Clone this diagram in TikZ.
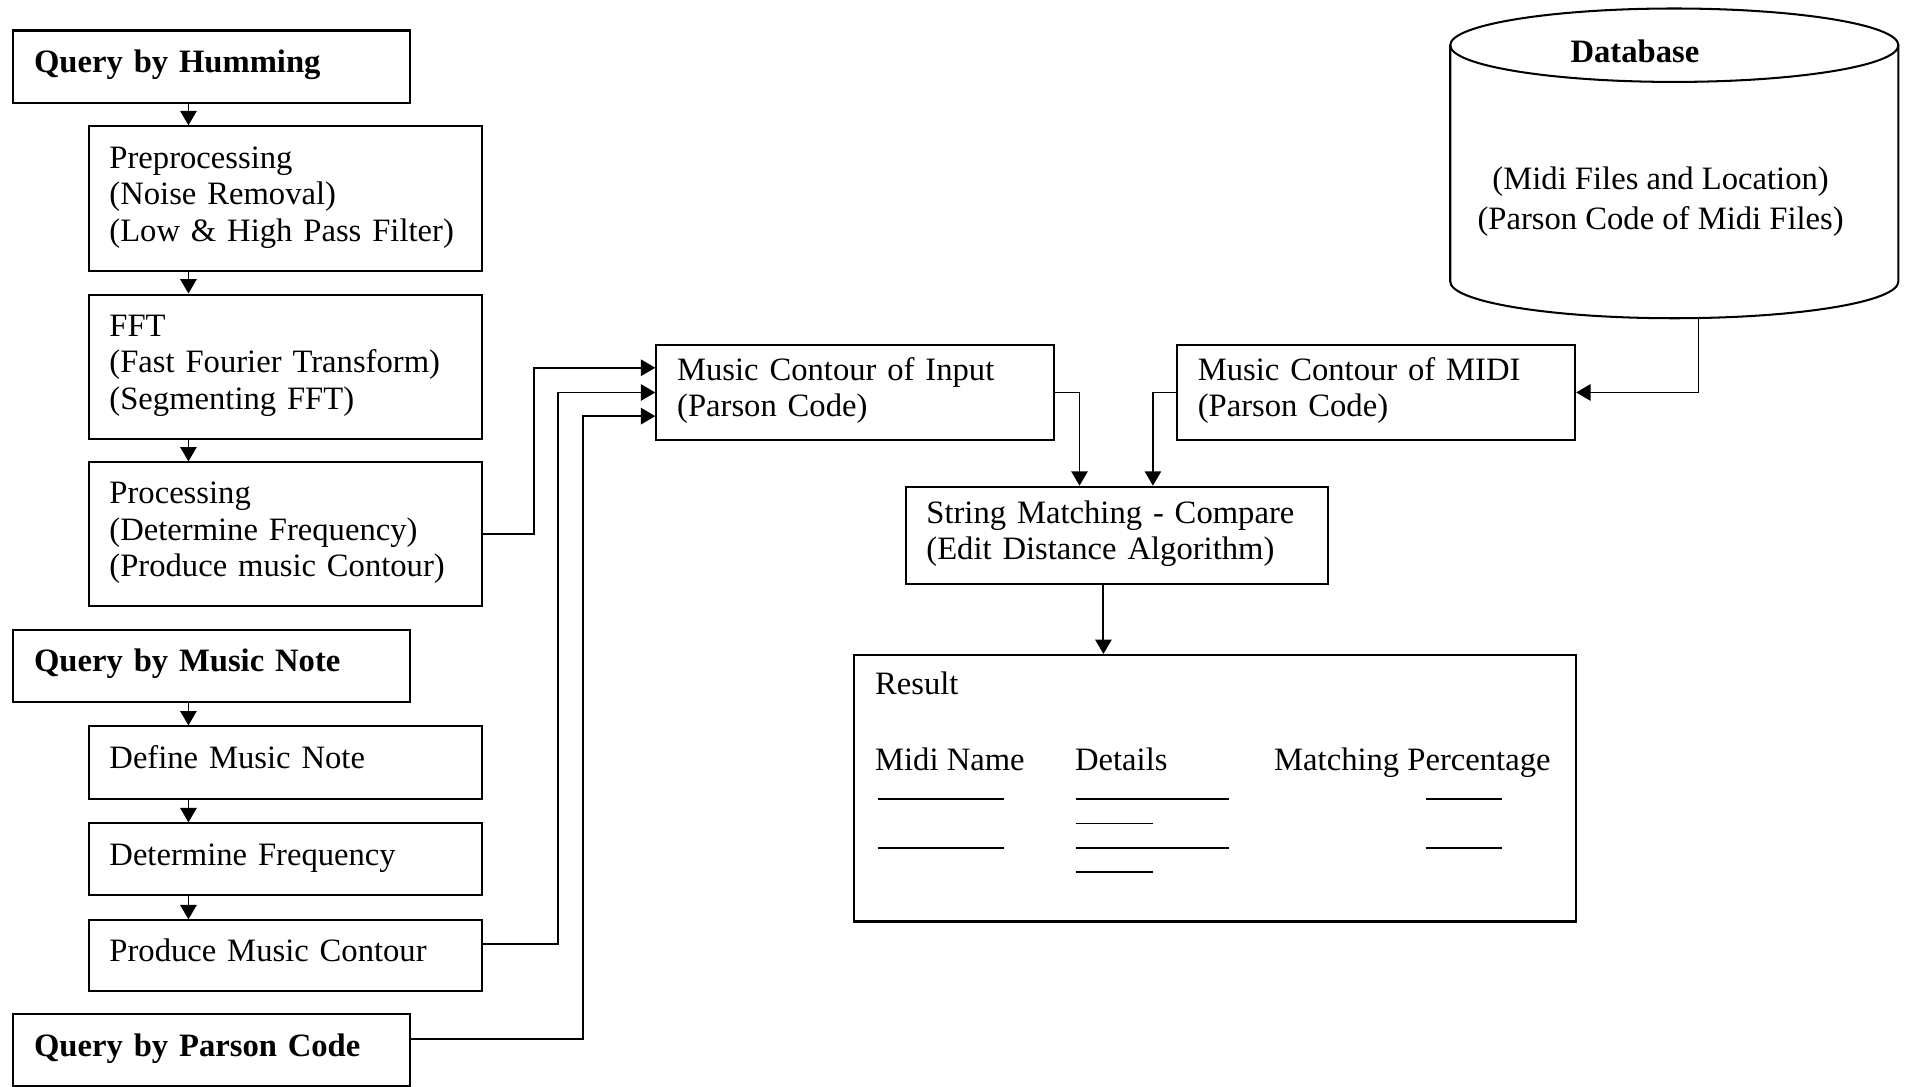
\documentclass[tikz,border=0pt]{standalone}
\usepackage{fontspec}
\setmainfont{Liberation Serif}
\usepackage{tikz}
\usetikzlibrary{arrows.meta}
\usetikzlibrary{positioning}
\tikzset{
  % filled triangle tips as in the scan
  >={Triangle[length=5.3pt,width=6pt]},
  line/.style={draw, ->, line width=0.7pt}
}
\newcommand{\bxstrut}{\rule[-4pt]{0pt}{12.4pt}}

\begin{document}
\begin{tikzpicture}[x=0.45pt, y=-0.45pt, font=\fontsize{12}{13.4}\selectfont]
    % Define styles
    \tikzstyle{block} = [rectangle, draw, line width=0.75pt, anchor=north west, align=left, inner xsep=7.65pt, inner ysep=0pt, text width=129.3pt, execute at begin node=\bxstrut, execute at end node=\bxstrut]
    \tikzstyle{query} = [block, font=\fontsize{12}{13.4}\selectfont\bfseries, text width=130.6pt, minimum height=26.5pt]
    \tikzstyle{contour} = [block, text width=131.1pt, minimum height=35pt]
    \tikzstyle{dbnode} = [rectangle, minimum width=164.8pt, minimum height=113.9pt, inner sep=0pt, outer sep=0pt]
    \tikzstyle{coltext} = [anchor=base west, inner sep=0pt]

    \useasboundingbox (0,0) rectangle (1560,887.5);
    \coordinate (ax) at (154,0);

    % Query by humming column
    \node [query] (qhum) at (10,24.1) {Query by Humming};
    \node [block, minimum height=53.2pt] (pre) at (71.6,102.4) {Preprocessing\\(Noise Removal)\\(Low \& High Pass Filter)};
    \node [block, minimum height=53.1pt, below=7.9pt of pre] (fft) {FFT\\(Fast Fourier Transform)\\(Segmenting FFT)};
    \node [block, minimum height=52.8pt, below=7.9pt of fft] (proc) {Processing\\(Determine Frequency)\\(Produce music Contour)};

    % Query by music note column
    \node [query] (qmn) at (10,513.6) {Query by Music Note};
    \node [block, minimum height=26.7pt] (def) at (71.6,592.8) {Define Music Note};
    \node [block, minimum height=26.4pt, below=8.2pt of def] (det) {Determine Frequency};
    \node [block, minimum height=26pt, below=8.5pt of det] (prod) {Produce Music Contour};

    \node [query, minimum height=26.4pt] (qpc) at (10,828) {Query by Parson Code};

    % Matching part
    \node [contour] (in) at (535.5,281) {Music Contour of Input\\(Parson Code)};
    \node [contour] (midi) at (961,281) {Music Contour of MIDI\\(Parson Code)};
    \node [block, text width=140pt, minimum height=35.7pt] (sm) at (739.2,396.9) {String Matching - Compare\\(Edit Distance Algorithm)};

    % Database drum
    \node [dbnode] (db) at (1368.2,133.5) {};
    \draw [line width=0.75pt] ([yshift=-13.5pt]db.north) ellipse [x radius=82.4pt, y radius=13.5pt];
    \draw [line width=0.75pt] ([yshift=-13.5pt]db.north west) -- ([yshift=13.5pt]db.south west)
        arc [start angle=180, end angle=360, x radius=82.4pt, y radius=13.5pt] -- ([yshift=-13.5pt]db.north east);
    \node [font=\fontsize{12}{13.4}\selectfont\bfseries] (dbname) at (1336,42.2) {Database};
    \node [align=center] (dbinfo) at (1357,165) {(Midi Files and Location)\\[1.2pt](Parson Code of Midi Files)};

    % Result table
    \node [draw, line width=0.75pt, anchor=north west, minimum width=265.4pt, minimum height=98pt, inner sep=0pt] (res) at (697.2,534.4) {};
    \node [coltext] (restitle) at (714.7,567.2) {Result};
    \node [coltext] (colname) at (714.7,629.5) {Midi Name};
    \node [coltext] (coldet) at (878.1,629.5) {Details};
    \node [coltext] (colmatch) at (1040.8,629.5) {Matching Percentage};
    \foreach \y in {653.1,692.7} {
        \draw [line width=0.7pt] (717.2,\y) -- (820.5,\y);
        \draw [line width=0.7pt] (879.6,\y) -- (1004.2,\y);
        \draw [line width=0.7pt] (879.6,\y+19.8) -- (942.2,\y+19.8);
        \draw [line width=0.7pt] (1164.9,\y) -- (1227,\y);
    }

    % Draw edges
    \path [line] (qhum.south -| ax) -- (pre.north -| ax);
    \path [line] (pre.south -| ax) -- (fft.north -| ax);
    \path [line] (fft.south -| ax) -- (proc.north -| ax);
    \path [line] (qmn.south -| ax) -- (def.north -| ax);
    \path [line] (def.south -| ax) -- (det.north -| ax);
    \path [line] (det.south -| ax) -- (prod.north -| ax);
    \path [line] (proc.east) -- ++(41.5,0) |- ([yshift=9.1pt]in.west);
    \path [line] ([yshift=4.3pt]prod.east) -- ++(61.3,0) |- (in.west);
    \path [line] ([yshift=4pt]qpc.east) -- ++(140.5,0) |- ([yshift=-8.7pt]in.west);
    \path [line] (in.east) -| ([xshift=-13.7pt]sm.north);
    \path [line] (midi.west) -| ([xshift=13.3pt]sm.north);
    \path [line] ([xshift=8.9pt]db.south) |- (midi.east);
    \path [line] ([xshift=-4.9pt]sm.south) -- ([xshift=-4.9pt]sm.south |- res.north);

\end{tikzpicture}
\end{document}
